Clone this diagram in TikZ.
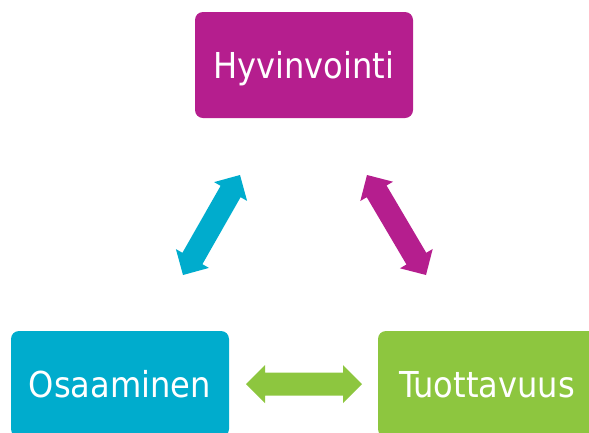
\documentclass[tikz,border=0pt]{standalone}
\usepackage{fontspec}
\setmainfont{DejaVu Sans Condensed}
\usetikzlibrary{calc}
\definecolor{mag}{RGB}{181,30,142}
\definecolor{cya}{RGB}{0,172,205}
\definecolor{grn}{RGB}{141,198,63}
\newcommand\hl{19pt}
\newcommand\hw{19pt}
\newcommand\sw{11.5pt}
\newcommand\mydblarr[3]{%
\fill[#1] (#2) -- ($(#2)!\hl!(#3)!\hw!90:(#3)$) -- ($(#2)!\hl!(#3)!\sw!90:(#3)$)
 -- ($(#3)!\hl!(#2)!\sw!-90:(#2)$) -- ($(#3)!\hl!(#2)!\hw!-90:(#2)$) -- (#3)
 -- ($(#3)!\hl!(#2)!\hw!90:(#2)$) -- ($(#3)!\hl!(#2)!\sw!90:(#2)$)
 -- ($(#2)!\hl!(#3)!\sw!-90:(#3)$) -- ($(#2)!\hl!(#3)!\hw!-90:(#3)$) -- cycle;}
\begin{document}
\begin{tikzpicture}[x=1pt,y=1pt,
  box/.style={rounded corners=8pt, minimum width=218pt, minimum height=106pt,
    text=white, inner sep=0pt, text height=26pt, text depth=0pt,
    font=\fontsize{35.7}{40}\selectfont}]
\useasboundingbox (0,0) rectangle (589,-432);
\clip (0,0) rectangle (589,-432);
\node[box, fill=mag] (hyv) at (304,-65) {Hyvinvointi};
\node[box, fill=cya] (osa) at (120,-384) {Osaaminen};
\node[box, fill=grn] (tuo) at (487,-384) {Tuottavuus};
\coordinate (c1) at (183,-275);
\coordinate (c2) at (240,-175);
\coordinate (m1) at (367,-175);
\coordinate (m2) at (426,-275);
\coordinate (g1) at (246,-384);
\coordinate (g2) at (362,-384);
\mydblarr{cya}{c1}{c2}
\mydblarr{mag}{m1}{m2}
\mydblarr{grn}{g1}{g2}
\end{tikzpicture}
\end{document}
